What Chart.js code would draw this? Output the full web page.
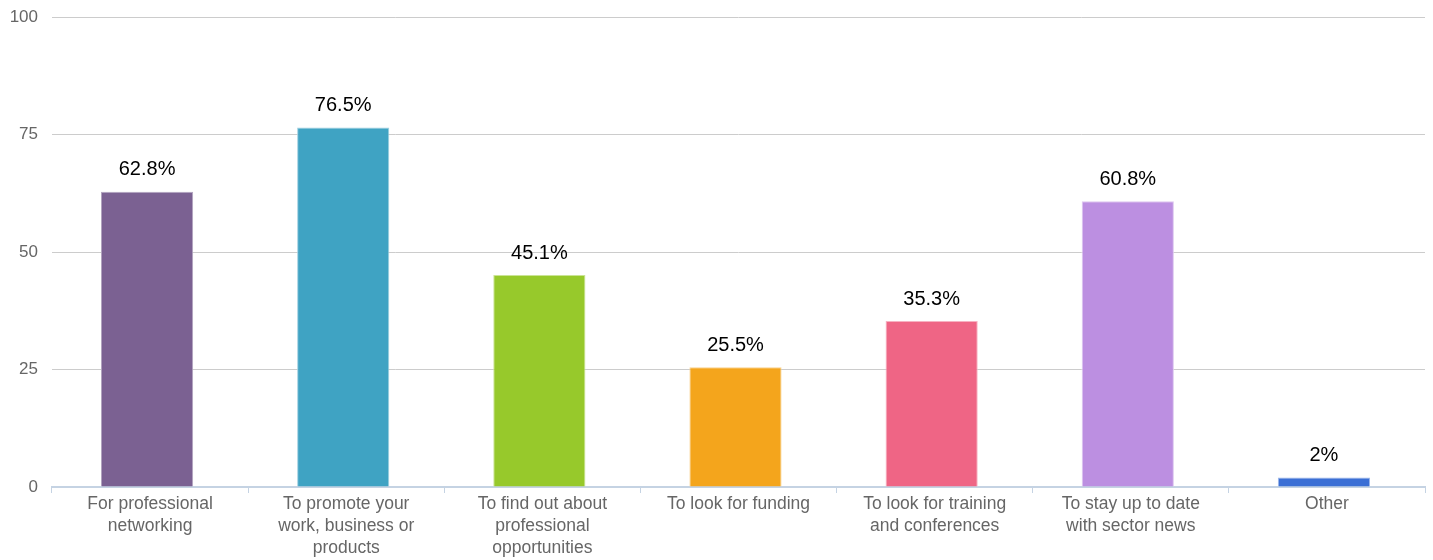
<!DOCTYPE html>
<html>
<head>
<meta charset="utf-8">
<script src="https://cdn.jsdelivr.net/npm/chart.js@4/dist/chart.umd.min.js"></script>
<style>
	html, body { margin: 0; padding: 0; background: #fff; }
	#wrap { width: 1433px; height: 560px; position: relative; }
</style>
</head>
<body>
<div id="wrap"><canvas id="chart"></canvas></div>
<script>
// survey answers, one bar per reason
var categories = [
	['For professional', 'networking'],
	['To promote your', 'work, business or', 'products'],
	['To find out about', 'professional', 'opportunities'],
	['To look for funding'],
	['To look for training', 'and conferences'],
	['To stay up to date', 'with sector news'],
	['Other']
];
var percentages = [62.8, 76.5, 45.1, 25.5, 35.3, 60.8, 2];
var yTicks = [0, 25, 50, 75, 100];

var barColors = ['#7B6192', '#3FA3C3', '#97C92B', '#F4A51C', '#EF6585', '#BC8FE1', '#3B6FD5'];
var barEdges = ['#B3A5C0', '#9FD0E0', '#CBE495', '#F9D28D', '#F7B2C2', '#DDC7F0', '#9DB7EA'];

var FONT = '"Liberation Sans", Arial, sans-serif';

// bars sit a touch left of the category centre
var nudgeBars = {
	id: 'nudgeBars',
	afterDatasetsUpdate: function(chart) {
		chart.getDatasetMeta(0).data.forEach(function(bar) {
			bar.x -= 3;
		});
	}
};

// writes the value above each bar
var valueLabels = {
	id: 'valueLabels',
	afterDatasetsDraw: function(chart) {
		var ctx = chart.ctx;
		var meta = chart.getDatasetMeta(0);
		ctx.save();
		ctx.font = '20px ' + FONT;
		ctx.fillStyle = '#000';
		ctx.textAlign = 'center';
		ctx.textBaseline = 'middle';
		meta.data.forEach(function(bar, i) {
			ctx.fillText(percentages[i] + '%', bar.x, bar.y - 22);
		});
		ctx.restore();
	}
};

var config = {
	type: 'bar',
	data: {
		labels: categories,
		datasets: [{
			data: percentages,
			backgroundColor: barColors,
			borderColor: barEdges,
			borderWidth: 1,
			borderSkipped: 'bottom',
			categoryPercentage: 1,
			barPercentage: 0.47
		}]
	},
	options: {
		responsive: true,
		maintainAspectRatio: false,
		animation: false,
		layout: { padding: { top: 17, right: 8, left: 0, bottom: 0 } },
		plugins: {
			legend: { display: false },
			tooltip: { enabled: false }
		},
		scales: {
			x: {
				offset: true,
				grid: {
					offset: true,
					drawOnChartArea: false,
					color: '#C5D3E3',
					tickLength: 6
				},
				border: { color: '#C5D3E3', width: 2 },
				ticks: {
					color: '#666',
					padding: 0,
					maxRotation: 0,
					autoSkip: false,
					font: { family: FONT, size: 17.5, lineHeight: 1.26 }
				},
				afterFit: function(scale) { scale.height = 73; }
			},
			y: {
				min: 0,
				max: 100,
				afterBuildTicks: function(scale) {
					scale.ticks = yTicks.map(function(v) { return { value: v }; });
				},
				grid: {
					drawTicks: false,
					color: function(c) { return c.tick.value === 0 ? 'rgba(0,0,0,0)' : '#CCCCCC'; }
				},
				border: { display: false },
				ticks: {
					color: '#666',
					padding: 14,
					font: { family: FONT, size: 17 }
				},
				afterFit: function(scale) {
					scale.width = 52;
					scale.paddingTop = 0;
					scale.paddingBottom = 0;
				}
			}
		}
	},
	plugins: [nudgeBars, valueLabels]
};

new Chart(document.getElementById('chart').getContext('2d'), config);
</script>
</body>
</html>
